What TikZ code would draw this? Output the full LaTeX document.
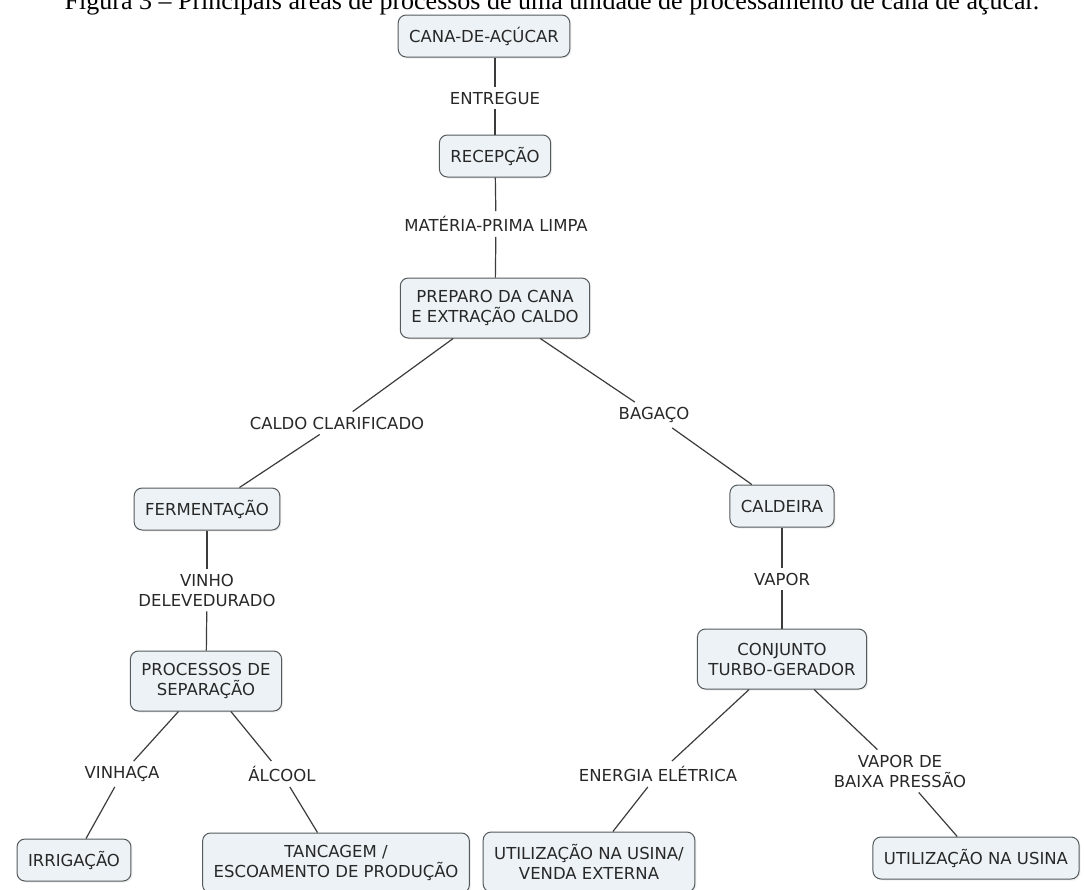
\documentclass[tikz,border=0pt]{standalone}
\usepackage{fontspec}
\setmainfont{Liberation Serif}
\newfontfamily\cmapface{DejaVu Sans}
\usetikzlibrary{shadows}

\definecolor{conceptfill}{RGB}{236,242,245}
\definecolor{conceptdraw}{RGB}{85,90,92}
\definecolor{linkline}{RGB}{60,60,60}
\definecolor{labeltext}{RGB}{40,40,40}

\tikzset{
  concept/.style={draw=conceptdraw, line width=1pt, rounded corners=8pt,
    fill=conceptfill, text=labeltext, align=center,
    font=\cmapface\fontsize{16.5}{20}\selectfont,
    inner xsep=11pt, inner ysep=3pt, minimum height=42pt,
    drop shadow={opacity=0.12, shadow xshift=1.5pt, shadow yshift=-1.5pt}},
  tall/.style={minimum height=60pt},
  linking/.style={text=labeltext, align=center, inner sep=5pt,
    font=\cmapface\fontsize{16.5}{20}\selectfont},
  connector/.style={draw=linkline, line width=1.2pt}
}

\begin{document}
\begin{tikzpicture}[x=1pt,y=-1pt]
  \useasboundingbox (0,0) rectangle (1084,889);
  \fill[white] (0,0) rectangle (1084,889);
  \clip (0,0) rectangle (1084,889);

  \node (caption)
        [anchor=base, font=\fontsize{26}{30}\selectfont]
        at (552,9)
        {Figura 3 – Principais áreas de processos de uma unidade de processamento de cana de açúcar.};

  % concepts
  \node (cana)      [concept]      at (484,36)  {CANA-DE-AÇÚCAR};
  \node (recepcao)  [concept]      at (495,156) {RECEPÇÃO};
  \node (preparo)   [concept,tall] at (495,308) {PREPARO DA CANA\\E EXTRAÇÃO CALDO};
  \node (ferment)   [concept]      at (207,509) {FERMENTAÇÃO};
  \node (separacao) [concept,tall] at (206,681) {PROCESSOS DE\\SEPARAÇÃO};
  \node (irrigacao) [concept]      at (74,860)  {IRRIGAÇÃO};
  \node (tancagem)  [concept,tall] at (336,863) {TANCAGEM /\\ESCOAMENTO DE PRODUÇÃO};
  \node (caldeira)  [concept]      at (782,506) {CALDEIRA};
  \node (turbo)     [concept,tall] at (782,659) {CONJUNTO\\TURBO-GERADOR};
  \node (usinaVenda)[concept,tall] at (589,862) {UTILIZAÇÃO NA USINA/\\VENDA EXTERNA};
  \node (usina)     [concept]      at (976,858) {UTILIZAÇÃO NA USINA};

  % linking phrases
  \node (entregue)  [linking] at (495,98)  {ENTREGUE};
  \node (materia)   [linking] at (496,224) {MATÉRIA-PRIMA LIMPA};
  \node (caldo)     [linking] at (337,423) {CALDO CLARIFICADO};
  \node (bagaco)    [linking] at (654,415) {BAGAÇO};
  \node (vinho)     [linking] at (207,590) {VINHO\\DELEVEDURADO};
  \node (vinhaca)   [linking] at (122,774) {VINHAÇA};
  \node (alcool)    [linking] at (282,774) {ÁLCOOL};
  \node (vapor)     [linking] at (782,579) {VAPOR};
  \node (energia)   [linking] at (658,774) {ENERGIA ELÉTRICA};
  \node (baixa)     [linking] at (900,771) {VAPOR DE\\BAIXA PRESSÃO};

  \draw[connector] (entregue |- cana.south) -- (entregue);
  \draw[connector] (entregue) -- (recepcao);
  \draw[connector] (recepcao) -- (materia);
  \draw[connector] (materia) -- (preparo);
  \draw[connector] (preparo) -- (caldo);
  \draw[connector] (caldo) -- (ferment);
  \draw[connector] (preparo) -- (bagaco);
  \draw[connector] (bagaco) -- (caldeira);
  \draw[connector] (ferment) -- (vinho);
  \draw[connector] (vinho) -- (separacao);
  \draw[connector] (separacao) -- (vinhaca);
  \draw[connector] (vinhaca) -- (irrigacao);
  \draw[connector] (separacao) -- (alcool);
  \draw[connector] (alcool) -- (tancagem);
  \draw[connector] (caldeira) -- (vapor);
  \draw[connector] (vapor) -- (turbo);
  \draw[connector] (turbo) -- (energia);
  \draw[connector] (energia) -- (usinaVenda);
  \draw[connector] (turbo) -- (baixa);
  \draw[connector] (baixa) -- (usina);
\end{tikzpicture}
\end{document}
